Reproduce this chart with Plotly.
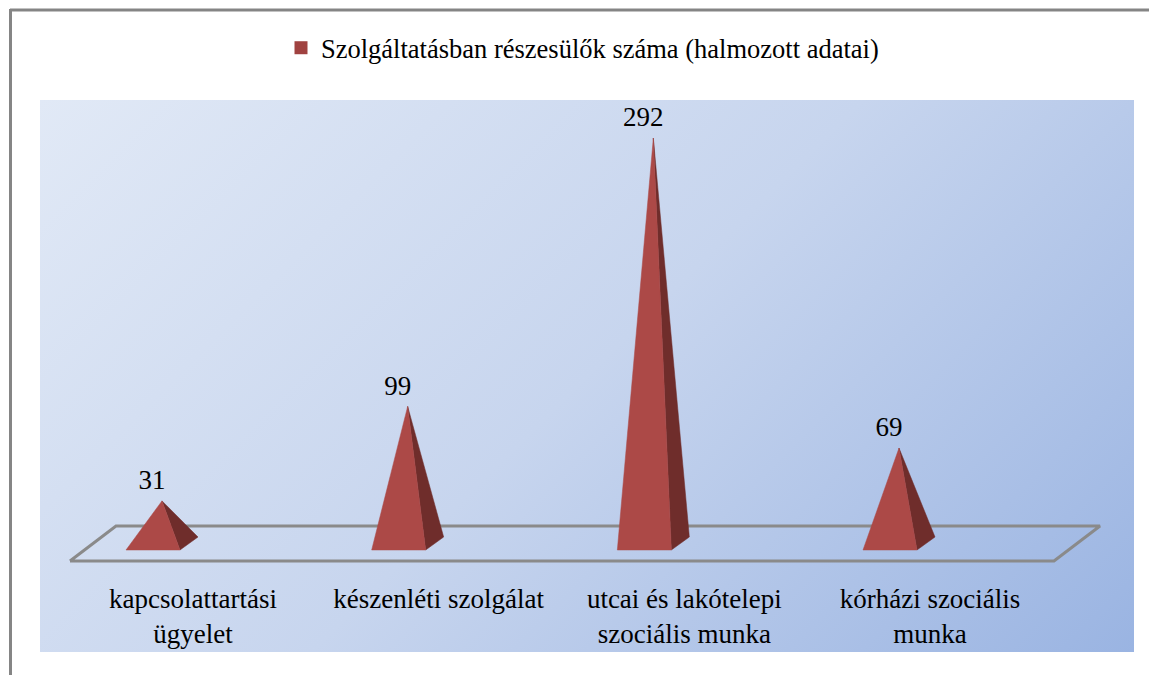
import base64
import plotly.graph_objects as go

categories = ["kapcsolattartási<br>ügyelet", "készenléti szolgálat",
              "utcai és lakótelepi<br>szociális munka", "kórházi szociális<br>munka"]
values = [31, 99, 292, 69]
series_name = "Szolgáltatásban részesülők száma (halmozott adatai)"

W, H = 1149, 675
PX, PY = (40, 1134), (100, 652)
px_per_cat = 245.67
px_per_val = 1.39
x0_px, y0_px = 162, 544


def dx(px):
    return px / px_per_cat


def dy(px):
    return px / px_per_val


FRONT, SIDE = "#AC4947", "#6F2D2B"
FONT = "Liberation Serif"

fig = go.Figure()

# floor of the 3D chart
fig.add_trace(go.Scatter(
    x=[dx(70 - x0_px), dx(1054 - x0_px), dx(1100 - x0_px), dx(116 - x0_px), dx(70 - x0_px)],
    y=[dy(y0_px - 561), dy(y0_px - 561), dy(y0_px - 526), dy(y0_px - 526), dy(y0_px - 561)],
    mode="lines", line=dict(color="#8A8A8A", width=3), showlegend=False, hoverinfo="skip"))

for i, v in enumerate(values):
    base = dy(-6)
    fig.add_trace(go.Scatter(
        x=[i + dx(18), i, i + dx(36), i + dx(18)],
        y=[base, v, dy(7), base],
        mode="lines", fill="toself", fillcolor=SIDE, line=dict(color=SIDE, width=0.5),
        showlegend=False, hoverinfo="skip"))
    fig.add_trace(go.Scatter(
        x=[i - dx(36), i, i + dx(18), i - dx(36)],
        y=[base, v, base, base],
        mode="lines", fill="toself", fillcolor=FRONT, line=dict(color=FRONT, width=0.5),
        showlegend=False, hoverinfo="skip"))

# data labels
fig.add_trace(go.Scatter(
    x=[i - dx(10) for i in range(len(values))], y=[v + dy(5) for v in values],
    mode="text", text=[str(v) for v in values], textposition="top center",
    textfont=dict(family=FONT, size=27, color="black"), showlegend=False, hoverinfo="skip"))

# legend entry
fig.add_trace(go.Scatter(
    x=[None], y=[None], mode="markers", name=series_name,
    marker=dict(symbol="square", size=13, color="#A04240")))

svg = ('<svg xmlns="http://www.w3.org/2000/svg" width="1094" height="552">'
       '<defs><linearGradient id="g" gradientUnits="userSpaceOnUse" x1="0" y1="0" x2="823" y2="823">'
       '<stop offset="0" stop-color="#E1E9F6"/><stop offset="0.5" stop-color="#C7D5EE"/>'
       '<stop offset="1" stop-color="#9AB4E2"/></linearGradient></defs>'
       '<rect width="1094" height="552" fill="url(#g)"/></svg>')
uri = "data:image/svg+xml;base64," + base64.b64encode(svg.encode()).decode()

fig.update_layout(
    width=W, height=H, margin=dict(l=0, r=0, t=0, b=0, pad=0),
    paper_bgcolor="white", plot_bgcolor="rgba(0,0,0,0)",
    showlegend=True,
    legend=dict(x=281 / W, y=1 - 24 / H, xanchor="left", yanchor="top", orientation="h",
                bgcolor="rgba(0,0,0,0)", font=dict(family=FONT, size=26.5, color="black")),
    xaxis=dict(domain=[PX[0] / W, PX[1] / W],
               range=[dx(PX[0] - x0_px), dx(PX[1] - x0_px)],
               tickmode="array", tickvals=[i + dx(31) for i in range(len(categories))],
               ticktext=categories, showgrid=False, zeroline=False, showline=False, ticks="",
               tickfont=dict(family=FONT, size=27, color="black"),
               anchor="free", position=1 - 580 / H),
    yaxis=dict(domain=[1 - PY[1] / H, 1 - PY[0] / H],
               range=[dy(y0_px - PY[1]), dy(y0_px - PY[0])],
               visible=False, showgrid=False, zeroline=False),
    images=[dict(source=uri, xref="x domain", yref="y domain", x=0, y=1, sizex=1, sizey=1,
                 xanchor="left", yanchor="top", sizing="stretch", layer="below")],
    shapes=[
        dict(type="line", xref="paper", yref="paper", x0=10 / W, x1=1, y0=1 - 10 / H, y1=1 - 10 / H,
             line=dict(color="#858585", width=3)),
        dict(type="line", xref="paper", yref="paper", x0=10.5 / W, x1=10.5 / W, y0=1 - 9 / H, y1=0,
             line=dict(color="#858585", width=3)),
    ],
)

fig.write_html("out.html", config={"displayModeBar": False},
               post_script="document.body.style.margin='0';document.body.style.overflow='hidden';")
